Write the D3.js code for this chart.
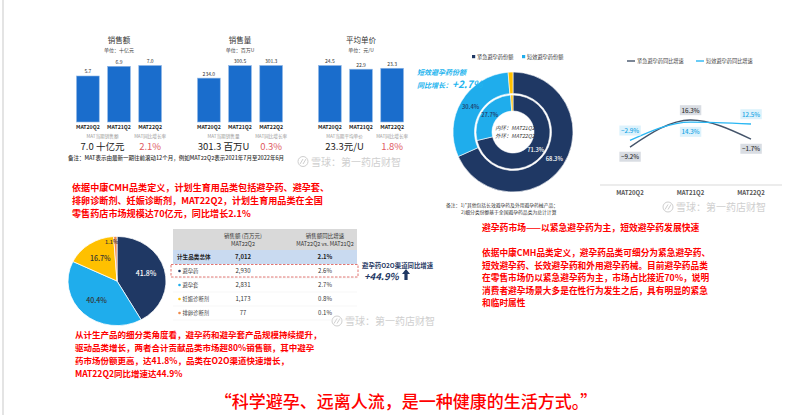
<!DOCTYPE html>
<html>
<head>
<meta charset="utf-8">
<script src="https://cdn.jsdelivr.net/npm/d3@7"></script>
<style>
  html, body { margin: 0; padding: 0; background: #fff; }
  svg { display: block; font-family: "Noto Sans CJK SC", "Noto Sans", sans-serif; }
</style>
</head>
<body>
<div id="chart"></div>
<script>
// ---- Data ----
const periods = ["MAT20Q2", "MAT21Q2", "MAT22Q2"];

const barTitles = ["销售额", "销售量", "平均单价"];
const barUnits = ["单位：十亿元", "单位：百万U", "单位：元/U"];
const salesValue = [5.7, 6.9, 7.0];
const salesVolume = [234.0, 300.5, 301.3];
const avgPrice = [24.5, 22.9, 23.3];
const summaryLabels = [["MAT当期销售额", "MAT同比增长率"], ["MAT当期销售量", "MAT同比增长率"], ["MAT当期平均单价", "MAT同比增长率"]];
const summaryValues = [["7.0 十亿元", "2.1%"], ["301.3 百万U", "0.3%"], ["23.3元/U", "1.8%"]];

const shareSegments = ["紧急避孕药份额", "短效避孕药份额", "其他"];
const innerShare = [71.3, 27.7, 1.0];   // MAT21Q2
const outerShare = [68.3, 30.4, 1.3];   // MAT22Q2

const growthSeries = ["紧急避孕药同比增速", "短效避孕药同比增速"];
const emergencyGrowth = [-9.2, 16.3, -1.7];
const shortGrowth = [-2.9, 14.3, 12.5];

const subCategories = ["避孕药", "避孕套", "妊娠诊断剂", "排卵诊断剂"];
const subShare = [41.8, 40.4, 16.7, 1.1];
const subSales = [2930, 2831, 1173, 77];
const subGrowth = [2.6, 2.7, 0.8, 0.1];
const totalSales = 7012;
const totalGrowth = 2.1;

const W = 800, H = 415;
const navy = "#1f3864", sky = "#1fadec", gold = "#ffc000", orange = "#f08a4b";
const red = "#ff0000";

const svg = d3.select("#chart").append("svg")
  .attr("width", W).attr("height", H)
  .attr("viewBox", [0, 0, W, H]);

svg.append("rect").attr("width", W).attr("height", H).attr("fill", "#fff");
svg.append("line").attr("x1", 3).attr("x2", 3).attr("y1", 0).attr("y2", H)
  .attr("stroke", "#e4e4e4").attr("stroke-width", 2);

// ---- Top-left: three small bar charts ----
const barSets = [salesValue, salesVolume, avgPrice];
barSets.forEach((vals, i) => {
  const x0 = 76.5 + i * 121;
  const x = d3.scaleBand(periods, [x0, x0 + 85]).paddingInner(0.27).paddingOuter(0);
  const y = d3.scaleLinear([0, d3.max(vals)], [122, 65.5]);
  const g = svg.append("g");
  const cx = x0 + 42.5;

  g.append("text").attr("x", cx).attr("y", 43).attr("text-anchor", "middle")
    .attr("font-size", 7.5).attr("fill", "#333").text(barTitles[i]);
  g.append("text").attr("x", cx).attr("y", 52).attr("text-anchor", "middle")
    .attr("font-size", 5).attr("fill", "#444").text(barUnits[i]);

  g.selectAll("rect.bar").data(vals).join("rect").attr("class", "bar")
    .attr("x", (d, j) => x(periods[j]))
    .attr("y", d => y(d))
    .attr("width", x.bandwidth())
    .attr("height", d => y(0) - y(d))
    .attr("fill", "#1a6dcc")
    .attr("stroke", "#8fb7e6").attr("stroke-width", 0.6);

  g.selectAll("text.val").data(vals).join("text").attr("class", "val")
    .attr("x", (d, j) => x(periods[j]) + x.bandwidth() / 2)
    .attr("y", d => y(d) - 2.5)
    .attr("text-anchor", "middle").attr("font-size", 5).attr("fill", "#333")
    .text(d => d3.format(".1f")(d));

  g.selectAll("text.xl").data(periods).join("text").attr("class", "xl")
    .attr("x", d => x(d) + x.bandwidth() / 2).attr("y", 128.5)
    .attr("text-anchor", "middle").attr("font-size", 5.2).attr("font-weight", 700)
    .attr("fill", "#222").text(d => d);

  const lx = x0 + 26, rx = x(periods[2]) + x.bandwidth() / 2;
  g.append("text").attr("x", lx).attr("y", 137.5).attr("text-anchor", "middle")
    .attr("font-size", 4.6).attr("fill", "#999").text(summaryLabels[i][0]);
  g.append("text").attr("x", rx).attr("y", 137.5).attr("text-anchor", "middle")
    .attr("font-size", 4.6).attr("fill", "#999").text(summaryLabels[i][1]);
  g.append("text").attr("x", lx).attr("y", 149.5).attr("text-anchor", "middle")
    .attr("font-size", 9.5).attr("fill", "#222").text(summaryValues[i][0]);
  g.append("text").attr("x", rx).attr("y", 149.5).attr("text-anchor", "middle")
    .attr("font-size", 9.5).attr("fill", "#e05a5f").text(summaryValues[i][1]);
});

svg.append("text").attr("x", 68).attr("y", 159.5).attr("font-size", 5.5)
  .attr("fill", "#333").attr("font-weight", 500)
  .text("备注：MAT表示由最新一期往前滚动12个月，例如MAT22Q2表示2021年7月至2022年6月");

// ---- Watermarks ----
function watermark(x, yc) {
  const g = svg.append("g").attr("transform", `translate(${x},${yc})`).attr("opacity", 0.55);
  g.append("circle").attr("cx", 5).attr("cy", 0).attr("r", 5)
    .attr("fill", "none").attr("stroke", "#a8a8a8").attr("stroke-width", 1);
  g.append("path").attr("d", "M2,2.5 L5,-2.5 M5,2.5 L8,-2.5")
    .attr("stroke", "#a8a8a8").attr("stroke-width", 1).attr("fill", "none");
  g.append("text").attr("x", 13).attr("y", 4).attr("font-size", 10)
    .attr("fill", "#a8a8a8").text("雪球：第一药店财智");
}
watermark(298, 161.5);
watermark(663, 207);
watermark(332, 321);

// ---- Red text blocks ----
function redBlock(lines, x, y0, step, size) {
  const t = svg.append("g");
  lines.forEach((s, i) => t.append("text").attr("x", x).attr("y", y0 + i * step)
    .attr("font-size", size).attr("font-weight", 700).attr("fill", red).text(s));
}
redBlock([
  "依据中康CMH品类定义，计划生育用品类包括避孕药、避孕套、",
  "排卵诊断剂、妊娠诊断剂，MAT22Q2，计划生育用品类在全国",
  "零售药店市场规模达70亿元，同比增长2.1%"
], 72, 190.5, 13, 9.1);

redBlock([
  "从计生产品的细分类角度看，避孕药和避孕套产品规模持续提升，",
  "驱动品类增长，两者合计贡献品类市场超80%销售额，其中避孕",
  "药市场份额更高，达41.8%，品类在O2O渠道快速增长，",
  "MAT22Q2同比增速达44.9%"
], 75, 338, 13, 8.5);

redBlock(["避孕药市场——以紧急避孕药为主，短效避孕药发展快速"], 482, 231, 13, 8.8);
redBlock([
  "依据中康CMH品类定义，避孕药品类可细分为紧急避孕药、",
  "短效避孕药、长效避孕药和外用避孕药械。目前避孕药品类",
  "在零售市场仍以紧急避孕药为主，市场占比接近70%，说明",
  "消费者避孕场景大多是在性行为发生之后，具有明显的紧急",
  "和临时属性"
], 482, 256, 12.6, 8.7);

svg.append("text").attr("x", 406).attr("y", 408).attr("text-anchor", "middle")
  .attr("font-size", 17).attr("fill", red).attr("font-weight", 500)
  .text("“科学避孕、远离人流，是一种健康的生活方式。”");

// ---- Donut (inner MAT21Q2, outer MAT22Q2) ----
const donutColor = d3.scaleOrdinal(shareSegments, [navy, sky, gold]);
const pie = d3.pie().sort(null);
const dc = { x: 513, y: 132 };
const dg = svg.append("g").attr("transform", `translate(${dc.x},${dc.y})`);
const rings = [
  { vals: innerShare, r0: 21, r1: 37 },
  { vals: outerShare, r0: 38.5, r1: 60 }
];
rings.forEach(ring => {
  const arc = d3.arc().innerRadius(ring.r0).outerRadius(ring.r1);
  const arcs = pie(ring.vals);
  dg.selectAll(null).data(arcs).join("path")
    .attr("d", arc)
    .attr("fill", (d, i) => donutColor(shareSegments[i]))
    .attr("stroke", "#fff").attr("stroke-width", 0.6);
  dg.selectAll(null).data(arcs.slice(0, 2)).join("text")
    .attr("transform", d => `translate(${arc.centroid(d)})`)
    .attr("text-anchor", "middle").attr("dy", "0.35em")
    .attr("font-size", 5.8).attr("font-weight", 500)
    .attr("fill", (d, i) => i === 0 ? "#fff" : navy)
    .text(d => d3.format(".1f")(d.data) + "%");
});
dg.append("text").attr("x", 2).attr("y", -2).attr("text-anchor", "middle")
  .attr("font-size", 5.4).attr("font-style", "italic").attr("fill", "#333").text("内环：MAT21Q2");
dg.append("text").attr("x", 2).attr("y", 6).attr("text-anchor", "middle")
  .attr("font-size", 5.4).attr("font-style", "italic").attr("fill", "#333").text("外环：MAT22Q2");

// donut legend
const dLeg = svg.append("g").attr("transform", "translate(472,57)");
shareSegments.slice(0, 2).forEach((s, i) => {
  const gx = i * 50;
  dLeg.append("rect").attr("x", gx).attr("y", -2).attr("width", 3.2).attr("height", 3.2)
    .attr("fill", donutColor(s));
  dLeg.append("text").attr("x", gx + 5).attr("y", 1.8).attr("font-size", 5.2)
    .attr("fill", "#333").text(s);
});

svg.append("text").attr("x", 417).attr("y", 75).attr("font-size", 7)
  .attr("font-style", "italic").attr("font-weight", 700).attr("fill", "#22b4ee")
  .text("短效避孕药份额");
const gl = svg.append("text").attr("x", 417).attr("y", 88).attr("font-style", "italic")
  .attr("font-weight", 700).attr("fill", "#22b4ee");
gl.append("tspan").attr("font-size", 7).text("同比增长：");
gl.append("tspan").attr("font-size", 10).text("+2.7%");

svg.append("text").attr("x", 446).attr("y", 206.5).attr("font-size", 4.8)
  .attr("fill", "#333").text("备注：1)*其他包括长效避孕药及外用避孕药械产品；");
svg.append("text").attr("x", 461).attr("y", 213.5).attr("font-size", 4.8)
  .attr("fill", "#333").text("2)细分类份额基于全国避孕药品类为总计计算");

// ---- Line chart: growth rates ----
const lx = d3.scalePoint(periods, [630, 751]);
const ly = d3.scaleLinear([-20, 30], [158.5, 105.5]);
const lineColors = ["#44546a", "#2ab7f3"];
const seriesVals = [emergencyGrowth, shortGrowth];

svg.append("line").attr("x1", 600).attr("x2", 782).attr("y1", 185).attr("y2", 185)
  .attr("stroke", "#d9d9d9").attr("stroke-width", 1);
svg.selectAll("text.lxl").data(periods).join("text").attr("class", "lxl")
  .attr("x", d => lx(d)).attr("y", 195).attr("text-anchor", "middle")
  .attr("font-size", 6).attr("font-weight", 700).attr("fill", "#555").text(d => d);

const line = d3.line().x((d, i) => lx(periods[i])).y(d => ly(d)).curve(d3.curveMonotoneX);
seriesVals.forEach((vals, s) => {
  svg.append("path").attr("d", line(vals)).attr("fill", "none")
    .attr("stroke", lineColors[s]).attr("stroke-width", 1.4);
});

// labels: placed above when the series is the higher one at that period
seriesVals.forEach((vals, s) => {
  const other = seriesVals[1 - s];
  vals.forEach((v, i) => {
    const above = v > other[i];
    const yy = ly(v) + (above ? -9.5 : 10);
    const g = svg.append("g");
    const t = g.append("text").attr("x", lx(periods[i])).attr("y", yy)
      .attr("text-anchor", "middle").attr("dy", "0.35em").attr("font-size", 6.2)
      .attr("font-weight", 500)
      .attr("fill", s === 0 ? "#333" : "#1aa6e6")
      .text(d3.format(".1f")(v) + "%");
    const bb = t.node().getBBox();
    g.insert("rect", "text").attr("x", bb.x - 1.5).attr("y", bb.y - 0.5)
      .attr("width", bb.width + 3).attr("height", bb.height + 1)
      .attr("fill", s === 0 ? "#d9dde3" : "#dcf2fc");
  });
});

const lLeg = svg.append("g").attr("transform", "translate(627,61)");
growthSeries.forEach((s, i) => {
  const gx = i * 69;
  lLeg.append("line").attr("x1", gx).attr("x2", gx + 8).attr("y1", 0).attr("y2", 0)
    .attr("stroke", lineColors[i]).attr("stroke-width", 1.4);
  lLeg.append("text").attr("x", gx + 10).attr("y", 1.8).attr("font-size", 5.2)
    .attr("fill", "#444").text(s);
});

// ---- Bottom-left pie ----
const pieColor = d3.scaleOrdinal(subCategories, [navy, sky, gold, orange]);
const pc = { x: 117, y: 281 };
const pArc = d3.arc().innerRadius(0).outerRadius(49);
const pArcs = pie(subShare);
const pg = svg.append("g").attr("transform", `translate(${pc.x},${pc.y}) scale(1,0.91)`);
pg.selectAll("path").data(pArcs).join("path")
  .attr("d", pArc)
  .attr("fill", (d, i) => pieColor(subCategories[i]))
  .attr("stroke", "#fff").attr("stroke-width", 0.8);
const pLabArc = d3.arc().innerRadius(30).outerRadius(30);
const pLabArcSmall = d3.arc().innerRadius(43).outerRadius(43);
svg.selectAll("text.pl").data(pArcs).join("text").attr("class", "pl")
  .attr("transform", (d, i) => {
    const [cx, cy] = (i === 3 ? pLabArcSmall : pLabArc).centroid(d);
    return `translate(${pc.x + cx + (i === 3 ? -4 : 0)},${pc.y + cy * 0.91})`;
  })
  .attr("text-anchor", "middle").attr("dy", "0.35em")
  .attr("font-size", (d, i) => i === 3 ? 5.5 : 7).attr("font-weight", 500)
  .attr("fill", (d, i) => i === 0 ? "#fff" : "#333")
  .text(d => d3.format(".1f")(d.data) + "%");

// ---- Table ----
const tX0 = 173, tX1 = 357;
const colX = [182, 243, 325];
svg.append("rect").attr("x", tX0).attr("y", 229).attr("width", tX1 - tX0).attr("height", 21)
  .attr("fill", "#d9d9d9");
[["销售额 (百万元)", "MAT22Q2"], ["销售额同比增速", "MAT22Q2 vs. MAT21Q2"]].forEach((h, i) => {
  h.forEach((s, k) => svg.append("text").attr("x", colX[i + 1]).attr("y", 237.5 + k * 8)
    .attr("text-anchor", "middle").attr("font-size", 5.5).attr("fill", "#333").text(s));
});
svg.append("rect").attr("x", tX0).attr("y", 250).attr("width", tX1 - tX0).attr("height", 14)
  .attr("fill", "#c9daf0");
svg.append("text").attr("x", 177).attr("y", 259).attr("font-size", 5.6)
  .attr("font-weight", 700).attr("fill", "#222").text("计生品类总体");
svg.append("text").attr("x", colX[1]).attr("y", 259).attr("text-anchor", "middle")
  .attr("font-size", 6).attr("font-weight", 700).attr("fill", "#222").text(d3.format(",")(totalSales));
svg.append("text").attr("x", colX[2]).attr("y", 259).attr("text-anchor", "middle")
  .attr("font-size", 6).attr("font-weight", 700).attr("fill", "#222").text(totalGrowth.toFixed(1) + "%");

const rowY = d3.scaleBand(subCategories, [264, 320]);
subCategories.forEach((c, i) => {
  const yc = rowY(c) + rowY.bandwidth() / 2;
  svg.append("line").attr("x1", tX0).attr("x2", tX1).attr("y1", rowY(c) + rowY.bandwidth())
    .attr("y2", rowY(c) + rowY.bandwidth()).attr("stroke", "#ececec").attr("stroke-width", 0.5);
  svg.append("circle").attr("cx", 179.5).attr("cy", yc).attr("r", 1.3).attr("fill", pieColor(c));
  svg.append("text").attr("x", 182.5).attr("y", yc).attr("dy", "0.35em").attr("font-size", 5.3)
    .attr("fill", "#444").text(c);
  svg.append("text").attr("x", colX[1]).attr("y", yc).attr("dy", "0.35em").attr("text-anchor", "middle")
    .attr("font-size", 6).attr("fill", "#333").text(d3.format(",")(subSales[i]));
  svg.append("text").attr("x", colX[2]).attr("y", yc).attr("dy", "0.35em").attr("text-anchor", "middle")
    .attr("font-size", 6).attr("fill", "#333").text(subGrowth[i].toFixed(1) + "%");
});
svg.append("rect").attr("x", 171).attr("y", rowY(subCategories[0]) + 0.5)
  .attr("width", 187).attr("height", rowY.bandwidth() - 1.5)
  .attr("fill", "none").attr("stroke", "#d9534f").attr("stroke-width", 0.8)
  .attr("stroke-dasharray", "2.5,1.5");

// O2O annotation
svg.append("text").attr("x", 362).attr("y", 267.5).attr("font-size", 6.4)
  .attr("font-weight", 700).attr("fill", navy).text("避孕药O2O渠道同比增速");
svg.append("text").attr("x", 364).attr("y", 280).attr("font-size", 9.5)
  .attr("font-style", "italic").attr("font-weight", 700).attr("fill", navy).text("+44.9%");
svg.append("path").attr("d", "M402,274 L406,269 L410,274 L407.6,274 L407.6,280 L404.4,280 L404.4,274 Z")
  .attr("fill", navy);
</script>
</body>
</html>
